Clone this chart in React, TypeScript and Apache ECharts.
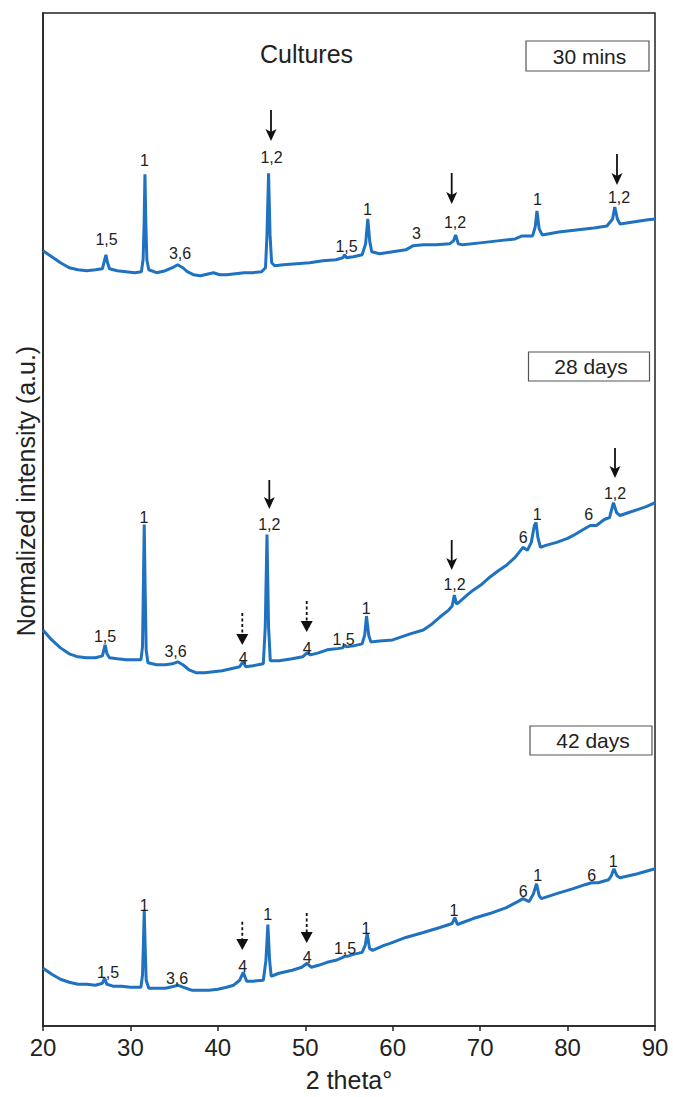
import React, { useEffect, useRef } from "react";
import * as echarts from "echarts";

// ---- data: [2theta (deg), normalized intensity (a.u.)] ----
const mins30: [number, number][] = [
  [20.0, 779], [20.5, 776], [21.0, 773], [22.0, 767], [23.0, 762], [24.0, 760], [25.0, 759], [26.0, 760],
  [26.8, 761], [27.02, 769], [27.2, 775], [27.38, 767], [27.6, 761], [28.5, 759], [29.5, 758], [30.5, 757],
  [31.25, 758], [31.45, 770], [31.56, 805], [31.66, 856], [31.77, 805], [31.88, 770], [32.1, 760], [33.0, 757],
  [34.0, 759], [34.8, 762], [35.4, 765], [36.0, 762], [36.5, 758], [37.2, 755], [38.0, 754], [39.0, 756],
  [39.5, 757], [40.2, 755], [41.0, 755], [42.0, 756], [43.0, 757], [44.0, 757], [45.0, 758], [45.45, 762],
  [45.62, 795], [45.8, 857], [45.97, 795], [46.15, 767], [46.5, 764], [47.5, 765], [49.0, 766], [50.5, 767],
  [52.0, 769], [53.5, 770], [54.3, 772], [54.5, 775], [54.7, 772], [55.5, 773], [56.5, 775], [56.9, 786],
  [57.15, 811], [57.38, 788], [57.6, 778], [58.5, 776], [60.0, 778], [61.5, 780], [62.3, 784], [63.5, 785],
  [65.0, 785], [66.5, 786], [66.95, 789], [67.2, 795], [67.5, 786], [68.0, 785], [70.0, 787], [72.0, 789],
  [74.0, 791], [74.8, 794], [76.0, 794], [76.3, 803], [76.5, 819], [76.75, 801], [77.1, 795], [79.0, 798],
  [81.0, 800], [83.0, 802], [84.5, 804], [85.15, 811], [85.4, 823], [85.7, 811], [86.0, 806], [87.5, 808],
  [89.0, 810], [90.0, 811],
];

const days28: [number, number][] = [
  [20.0, 398], [21.0, 388], [22.0, 380], [23.0, 374], [24.0, 371], [25.0, 370], [26.0, 370], [26.8, 372],
  [27.1, 383], [27.32, 374], [27.6, 370], [28.5, 369], [29.5, 368], [30.5, 368], [31.2, 368], [31.38, 381],
  [31.48, 441], [31.58, 504], [31.68, 441], [31.8, 378], [32.0, 365], [33.0, 363], [34.0, 363], [34.8, 364],
  [35.4, 366], [36.0, 363], [36.7, 358], [37.5, 355], [38.5, 355], [39.5, 356], [40.5, 357], [41.5, 359],
  [42.5, 361], [42.85, 366], [43.2, 361], [44.0, 362], [45.2, 364], [45.42, 401], [45.62, 494], [45.8, 401],
  [46.0, 367], [47.0, 367], [48.5, 369], [49.7, 371], [50.2, 375], [50.6, 373], [51.5, 375], [52.5, 378],
  [53.5, 379], [54.3, 380], [54.5, 383], [54.7, 381], [55.5, 382], [56.5, 384], [56.8, 393], [57.0, 412],
  [57.25, 393], [57.5, 386], [58.5, 387], [60.0, 388], [61.0, 391], [62.0, 394], [63.5, 398], [64.5, 404],
  [65.4, 411], [66.4, 418], [66.8, 422], [67.05, 433], [67.3, 424], [67.6, 426], [68.5, 433], [69.2, 438],
  [70.2, 444], [71.1, 451], [72.0, 457], [73.0, 463], [74.0, 471], [74.9, 481], [75.4, 478], [75.85, 486],
  [76.2, 503], [76.4, 506], [76.6, 491], [76.9, 481], [77.5, 483], [78.75, 486], [80.0, 490], [80.65, 493],
  [81.8, 499], [82.6, 503], [83.3, 503], [84.2, 509], [84.8, 511], [85.25, 526], [85.6, 516], [86.0, 513],
  [87.0, 516], [88.0, 519], [89.0, 522], [90.0, 526],
];

const days42: [number, number][] = [
  [20.0, 58], [21.0, 52], [22.0, 47], [23.0, 44], [24.0, 42], [25.0, 42], [26.0, 41], [26.8, 43],
  [27.05, 48], [27.3, 42], [28.0, 40], [29.0, 40], [30.0, 39], [31.2, 39], [31.38, 51], [31.48, 81],
  [31.58, 116], [31.68, 81], [31.8, 46], [32.1, 38], [33.0, 38], [34.0, 38], [35.0, 40], [35.4, 41],
  [36.0, 39], [37.0, 36], [38.0, 36], [39.0, 36], [40.0, 37], [41.0, 39], [41.8, 41], [42.5, 46],
  [42.9, 54], [43.3, 45], [44.0, 45], [45.2, 46], [45.5, 66], [45.72, 102], [45.92, 66], [46.1, 50],
  [47.0, 53], [48.5, 56], [49.6, 59], [50.2, 63], [50.7, 59], [51.5, 61], [52.5, 64], [53.5, 66],
  [54.3, 69], [54.5, 70], [54.8, 70], [55.5, 72], [56.5, 74], [56.85, 81], [57.08, 93], [57.35, 78],
  [57.7, 76], [59.0, 81], [59.7, 83], [61.5, 89], [63.5, 94], [65.4, 99], [66.8, 103], [67.1, 109],
  [67.4, 102], [68.0, 104], [69.2, 108], [71.1, 113], [73.0, 119], [74.3, 125], [74.9, 128], [75.6, 125],
  [76.1, 133], [76.45, 143], [76.75, 131], [77.0, 128], [78.75, 133], [80.65, 138], [82.0, 142], [82.75, 144],
  [83.5, 144], [84.7, 147], [85.0, 151], [85.3, 158], [85.65, 151], [86.0, 149], [88.0, 153], [90.0, 158],
];

const xTicks = { min: 20, max: 90, interval: 10 };

// ---- annotations (pixel positions) ----
const peakLabels: [string, number, number][] = [
  ["1,5", 106.5, 239], ["1", 144.5, 160.5], ["3,6", 180, 253], ["1,2", 271.5, 157], ["1,5", 346.5, 246],
  ["1", 367.5, 209.5], ["3", 416.5, 233], ["1,2", 455, 222], ["1", 537.5, 199.5], ["1,2", 619, 197],
  ["1,5", 105, 636], ["1", 144, 517.5], ["3,6", 175.5, 651], ["4", 243.3, 658], ["1,2", 269.3, 524],
  ["4", 307.3, 648.5], ["1,5", 343.5, 639.5], ["1", 366.3, 608.5], ["1,2", 454.5, 584.5], ["6", 523.3, 537],
  ["1", 537.3, 514.3], ["6", 588.7, 514.3], ["1,2", 615, 493.5],
  ["1,5", 108, 972.5], ["1", 144.3, 905.5], ["3,6", 177, 978.5], ["4", 242.7, 966], ["1", 267.7, 914.5],
  ["4", 307.3, 957.5], ["1,5", 345, 948.5], ["1", 366, 928.5], ["1", 454, 910.5], ["6", 523.3, 891.5],
  ["1", 537.7, 875], ["6", 591.7, 875], ["1", 613.3, 861.5],
];

// [x, yTop, yTip, dashed]
const arrows: [number, number, number, boolean][] = [
  [271, 110, 141, false], [451.7, 173, 204, false], [617, 154, 185, false],
  [269.3, 480, 509, false], [451.7, 540, 570, false], [615, 448, 478, false],
  [242.3, 613, 645, true], [306.7, 601, 632, true],
  [242.3, 921.7, 950, true], [306.7, 913, 943, true],
];

// [text, rectX, rectY, rectW, rectH]
const sampleBoxes: [string, number, number, number, number][] = [
  ["30 mins", 526, 41, 123, 30],
  ["28 days", 528.5, 352, 121, 29],
  ["42 days", 530, 726, 122, 29],
];

const FONT = "'Liberation Sans', Arial, Helvetica, sans-serif";
const TEXT = "#222";
const LINE = "#1f72c0";

export default function App() {
  const ref = useRef<HTMLDivElement>(null);

  useEffect(() => {
    document.body.style.margin = "0";
    const chart = echarts.init(ref.current!, null, { renderer: "svg" });

    const graphic: any[] = [];
    peakLabels.forEach(([t, x, y]) => {
      graphic.push({
        type: "text", x, y, z: 10,
        style: { text: t, fontSize: 16, fontFamily: FONT, fill: TEXT, align: "center", verticalAlign: "middle" },
      });
    });
    arrows.forEach(([x, y1, y2, dashed]) => {
      graphic.push({
        type: "line", z: 10,
        shape: { x1: x, y1, x2: x, y2: y2 - 8 },
        style: { stroke: "#111", lineWidth: 1.8, lineDash: dashed ? [3, 2.5] : null },
      });
      graphic.push({
        type: "polygon", z: 10,
        shape: dashed
          ? { points: [[x - 6, y2 - 11], [x + 6, y2 - 11], [x, y2]] }
          : { points: [[x - 5.5, y2 - 12], [x, y2 - 9], [x + 5.5, y2 - 12], [x, y2]] },
        style: { fill: "#111" },
      });
    });
    sampleBoxes.forEach(([t, x, y, w, h]) => {
      graphic.push({
        type: "rect", z: 10,
        shape: { x, y, width: w, height: h },
        style: { fill: "#fff", stroke: "#555", lineWidth: 1.2 },
      });
      graphic.push({
        type: "text", x: x + w / 2 + 2, y: y + h / 2, z: 11,
        style: { text: t, fontSize: 21, fontFamily: FONT, fill: TEXT, align: "center", verticalAlign: "middle" },
      });
    });
    graphic.push({
      type: "text", x: 306.5, y: 54, z: 10,
      style: { text: "Cultures", fontSize: 25, fontFamily: FONT, fill: TEXT, align: "center", verticalAlign: "middle" },
    });
    graphic.push({
      type: "text", x: 26, y: 491, rotation: Math.PI / 2, z: 10,
      style: {
        text: "Normalized intensity (a.u.)", fontSize: 25, fontFamily: FONT, fill: TEXT,
        align: "center", verticalAlign: "middle",
      },
    });

    const mkSeries = (name: string, data: [number, number][]) => ({
      name, type: "line", data, showSymbol: false, symbol: "none", smooth: false,
      lineStyle: { color: LINE, width: 3 }, z: 3,
    });

    chart.setOption({
      animation: false,
      backgroundColor: "#fff",
      textStyle: { fontFamily: FONT },
      grid: {
        left: 43, right: 18, top: 13, bottom: 66,
        show: true, borderColor: "#222", borderWidth: 1.5, backgroundColor: "transparent",
      },
      xAxis: {
        type: "value", min: xTicks.min, max: xTicks.max, interval: xTicks.interval,
        name: "2 theta°", nameLocation: "middle", nameGap: 41,
        nameTextStyle: { fontSize: 25, color: TEXT, fontFamily: FONT },
        axisLine: { show: true, lineStyle: { color: "#222", width: 1.5 } },
        axisTick: { show: true, inside: false, length: 5, lineStyle: { color: "#222", width: 1.5 } },
        axisLabel: { fontSize: 24, color: TEXT, margin: 9, fontFamily: FONT },
        splitLine: { show: false },
      },
      yAxis: {
        type: "value", min: 0, max: 1018,
        axisLine: { show: true, lineStyle: { color: "#222", width: 1.5 } },
        axisTick: { show: false }, axisLabel: { show: false }, splitLine: { show: false },
      },
      series: [mkSeries("30 mins", mins30), mkSeries("28 days", days28), mkSeries("42 days", days42)],
      graphic,
    });

    return () => chart.dispose();
  }, []);

  return <div ref={ref} style={{ width: 673, height: 1097 }} />;
}
